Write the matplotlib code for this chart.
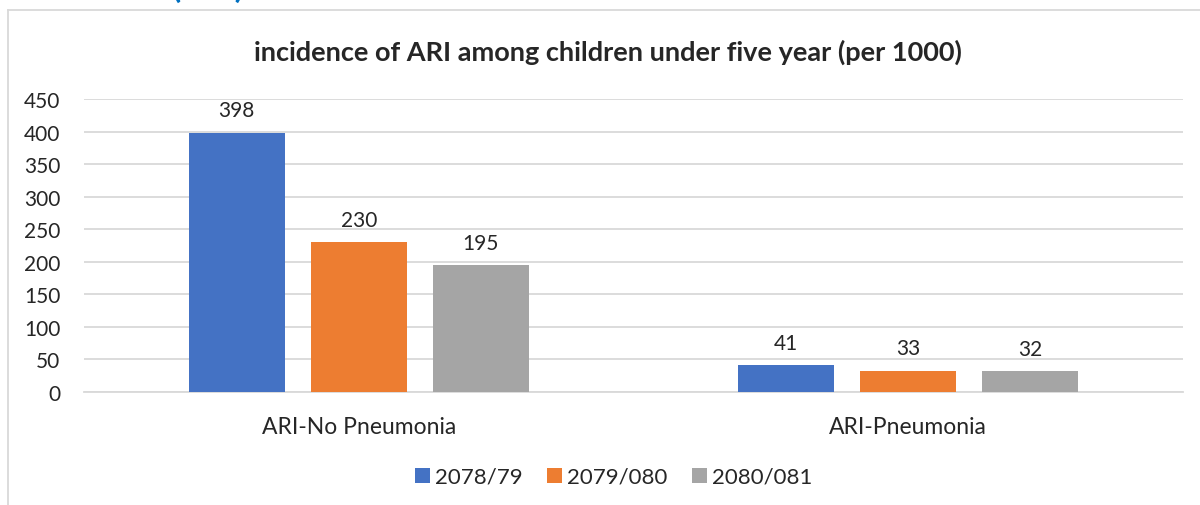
import numpy as np
import matplotlib.pyplot as plt
from matplotlib.lines import Line2D

plt.rcParams['font.family'] = ['Lato', 'DejaVu Sans']

categories = ["ARI-No Pneumonia", "ARI-Pneumonia"]
series = ["2078/79", "2079/080", "2080/081"]
values = {
    "2078/79": [398, 41],
    "2079/080": [230, 33],
    "2080/081": [195, 32],
}
colors = ["#4472C4", "#ED7D31", "#A5A5A5"]

fig = plt.figure(figsize=(12, 5.06), dpi=100)
ax = fig.add_axes([0.07, 0.2233, 0.9158, 0.5791])

x = np.arange(len(categories))
width = 0.175
step = 0.222
for i, (name, col) in enumerate(zip(series, colors)):
    bars = ax.bar(x + (i - 1) * step, values[name], width, color=col, label=name, zorder=3)
    for b, v in zip(bars, values[name]):
        ax.annotate(str(v), (b.get_x() + b.get_width() / 2, v), xytext=(0, 9),
                    textcoords="offset points", ha="center", va="bottom",
                    fontsize=15, color="#262626")

ax.set_xlim(-0.5, 1.5)
ax.set_ylim(0, 450)
ax.set_yticks(range(0, 451, 50))
ax.set_xticks(x)
ax.set_xticklabels(categories)
ax.tick_params(axis="y", length=0, labelsize=15, labelcolor="#262626", pad=17)
ax.tick_params(axis="x", length=0, labelsize=16.5, labelcolor="#262626", pad=17)
ax.grid(axis="y", color="#D9D9D9", linewidth=1.3, zorder=0)
for s in ["top", "right", "left"]:
    ax.spines[s].set_visible(False)
ax.spines["bottom"].set_color("#D9D9D9")
ax.spines["bottom"].set_linewidth(1.3)

fig.text(0.507, 1 - 52 / 506, "incidence of ARI among children under five year (per 1000)",
         ha="center", va="center", fontsize=19.5, fontweight="bold", color="#262626")

ax.legend(loc="center", bbox_to_anchor=(614 / 1200, 1 - 478 / 506), bbox_transform=fig.transFigure,
          ncol=3, frameon=False, fontsize=16, handlelength=0.65, handleheight=0.65,
          handletextpad=0.25, columnspacing=1.1, labelcolor="#262626")

# chart frame (left and top edges visible)
fig.add_artist(Line2D([8 / 1200, 8 / 1200], [0, 1 - 11 / 506], transform=fig.transFigure,
                      color="#D9D9D9", linewidth=1.3))
fig.add_artist(Line2D([8 / 1200, 1], [1 - 11 / 506, 1 - 11 / 506], transform=fig.transFigure,
                      color="#D9D9D9", linewidth=1.3))

# heading cut off above the chart, only its lower edge shows
fig.text(172 / 1200, 1 + 2 / 506, "(ARI)", ha="left", va="baseline", fontsize=24,
         color="#0070C0", fontweight="bold")

fig.savefig("out.png", dpi=100)
